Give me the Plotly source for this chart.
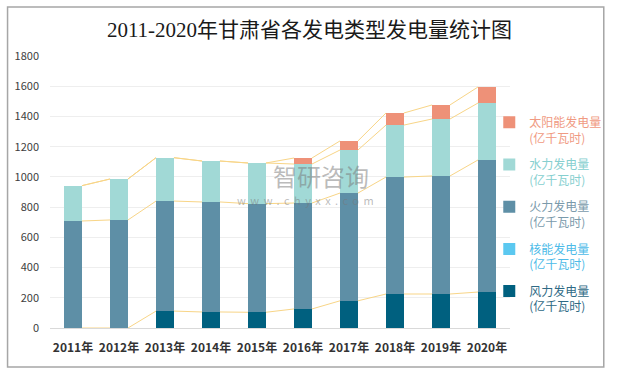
import plotly.graph_objects as go

# ---------------- data ----------------
years = ["2011年", "2012年", "2013年", "2014年", "2015年",
         "2016年", "2017年", "2018年", "2019年", "2020年"]
wind = [0, 0, 112, 106, 104, 126, 180, 225, 225, 238]
nuclear = [0, 0, 0, 0, 0, 0, 0, 0, 0, 0]
thermal = [708, 715, 728, 728, 719, 701, 713, 774, 781, 874]
hydro = [234, 271, 287, 271, 269, 258, 285, 344, 377, 377]
solar = [0, 0, 0, 0, 0, 40, 60, 80, 93, 106]

names = {
    "wind": "风力发电量<br>(亿千瓦时)",
    "nuclear": "核能发电量<br>(亿千瓦时)",
    "thermal": "火力发电量<br>(亿千瓦时)",
    "hydro": "水力发电量<br>(亿千瓦时)",
    "solar": "太阳能发电量<br>(亿千瓦时)",
}
colors = {
    "wind": "#00607F",
    "nuclear": "#5BC8F0",
    "thermal": "#5E8FA6",
    "hydro": "#A1D9D6",
    "solar": "#EE9178",
}
text_colors = {
    "wind": "#2F6A85",
    "nuclear": "#4DBBE8",
    "thermal": "#7A9AAB",
    "hydro": "#86CFCF",
    "solar": "#F09A82",
}
ranks = {"solar": 1, "hydro": 2, "thermal": 3, "nuclear": 4, "wind": 5}

W, H = 619, 371
L, R, T, B = 50, 103, 56, 43
pw, ph = W - L - R, H - T - B
bar_w = 0.39
x = list(range(len(years)))

fig = go.Figure()

series = [("wind", wind), ("nuclear", nuclear), ("thermal", thermal),
          ("hydro", hydro), ("solar", solar)]

for i, (key, vals) in enumerate(series):
    fig.add_trace(go.Bar(
        x=x, y=vals, width=bar_w,
        name=f'<span style="color:{text_colors[key]}">{names[key]}</span>',
        marker=dict(color=colors[key], line=dict(width=0)),
        legendgroup=key,
        legendrank=ranks[key],
        hoverinfo="y",
    ))

# series (connector) lines between cumulative tops
cum = [0] * len(years)
for key, vals in series:
    cum = [c + v for c, v in zip(cum, vals)]
    if key == "nuclear":
        continue
    lx, ly = [], []
    for i in range(len(years) - 1):
        lx += [x[i] + bar_w / 2, x[i + 1] - bar_w / 2, None]
        ly += [cum[i], cum[i + 1], None]
    fig.add_trace(go.Scatter(
        x=lx, y=ly, mode="lines",
        line=dict(color="#F8D587", width=1),
        showlegend=False, hoverinfo="skip",
    ))

def px2paper_x(p):
    return (p - L) / pw

def px2paper_y(p):
    return (H - B - p) / ph

fig.update_layout(
    width=W, height=H,
    margin=dict(l=L, r=R, t=T, b=B),
    barmode="stack",
    bargap=0,
    plot_bgcolor="white",
    paper_bgcolor="white",
    font=dict(family="Noto Sans CJK SC, Noto Sans, sans-serif", color="#404040", size=12),
    title=dict(
        text="2011-2020年甘肃省各发电类型发电量统计图",
        x=0.5, xref="container", xanchor="center",
        y=1 - 30 / H, yanchor="middle",
        font=dict(family="Liberation Serif, Noto Sans CJK SC, serif", size=21, color="#1A1A1A"),
    ),
    xaxis=dict(
        range=[-0.5, len(years) - 0.5],
        tickvals=x, ticktext=years,
        tickfont=dict(size=12, color="#333333", weight="bold"),
        showgrid=False, zeroline=False,
        showline=True, linecolor="#D9D9D9", linewidth=1,
        ticks="", ticklabelstandoff=9,
    ),
    yaxis=dict(
        range=[0, 1800], dtick=200,
        tickfont=dict(size=11, color="#404040"),
        showgrid=True, gridcolor="#EEEEEE", gridwidth=1,
        zeroline=False, showline=False, ticks="",
        ticklabelstandoff=10,
    ),
    legend=dict(
        x=px2paper_x(495), xanchor="left",
        y=px2paper_y(108), yanchor="top",
        traceorder="grouped",
        tracegroupgap=8,
        valign="top",
        bgcolor="rgba(0,0,0,0)",
        font=dict(size=12),
    ),
    showlegend=True,
)

# outer frame
fig.add_shape(type="rect", xref="paper", yref="paper",
              x0=px2paper_x(7), x1=px2paper_x(611),
              y0=px2paper_y(367), y1=px2paper_y(7),
              line=dict(color="#A6A6A6", width=1.5), fillcolor="rgba(0,0,0,0)", layer="below")

# watermark
fig.add_annotation(text="智研咨询", xref="paper", yref="paper",
                   x=px2paper_x(325), y=px2paper_y(175),
                   showarrow=False, font=dict(size=24, color="rgba(120,120,120,0.5)"))
fig.add_annotation(text='<span style="letter-spacing:4.5px">www.chyxx.com</span>',
                   xref="paper", yref="paper",
                   x=px2paper_x(311), y=px2paper_y(200),
                   showarrow=False, font=dict(size=11, color="rgba(120,120,120,0.5)"))

fig.write_html("out.html", config={"displayModeBar": False},
               post_script="document.body.style.margin='0px';")
